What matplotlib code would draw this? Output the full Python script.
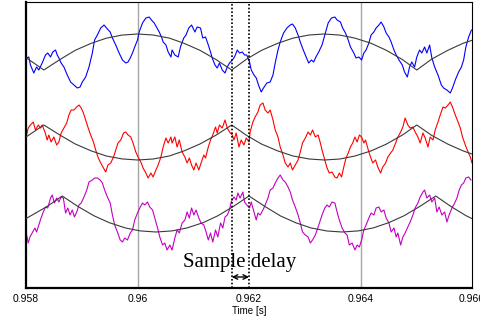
import matplotlib
matplotlib.use("Agg")
import matplotlib.pyplot as plt

# values (time in s, amplitude in arbitrary units)
blue_t = [0.95800, 0.95805, 0.95808, 0.95814, 0.95819, 0.95823, 0.95829, 0.95835, 0.95839, 0.95844,
          0.95848, 0.95853, 0.95856, 0.95859, 0.95863, 0.95868, 0.95874, 0.95880, 0.95886, 0.95892,
          0.95897, 0.95901, 0.95907, 0.95913, 0.95919, 0.95923, 0.95928, 0.95934, 0.95940, 0.95946,
          0.95951, 0.95955, 0.95961, 0.95967, 0.95973, 0.95979, 0.95983, 0.95987, 0.95991, 0.95995,
          0.96000, 0.96003, 0.96009, 0.96015, 0.96021, 0.96025, 0.96030, 0.96034, 0.96039, 0.96043,
          0.96046, 0.96051, 0.96055, 0.96060, 0.96062, 0.96067, 0.96073, 0.96077, 0.96083, 0.96087,
          0.96092, 0.96097, 0.96103, 0.96107, 0.96113, 0.96117, 0.96122, 0.96127, 0.96131, 0.96134,
          0.96139, 0.96143, 0.96147, 0.96152, 0.96157, 0.96161, 0.96165, 0.96170, 0.96174, 0.96179,
          0.96183, 0.96188, 0.96192, 0.96196, 0.96201, 0.96204, 0.96209, 0.96213, 0.96217, 0.96222,
          0.96226, 0.96232, 0.96238, 0.96243, 0.96247, 0.96252, 0.96256, 0.96262, 0.96268, 0.96274,
          0.96278, 0.96283, 0.96288, 0.96292, 0.96296, 0.96301, 0.96307, 0.96312, 0.96316, 0.96320,
          0.96325, 0.96331, 0.96337, 0.96342, 0.96348, 0.96354, 0.96358, 0.96364, 0.96368, 0.96373,
          0.96378, 0.96382, 0.96388, 0.96392, 0.96397, 0.96402, 0.96406, 0.96410, 0.96415, 0.96419,
          0.96424, 0.96428, 0.96433, 0.96437, 0.96442, 0.96446, 0.96451, 0.96455, 0.96460, 0.96464,
          0.96469, 0.96475, 0.96479, 0.96484, 0.96488, 0.96492, 0.96497, 0.96501, 0.96506, 0.96510,
          0.96515, 0.96519, 0.96524, 0.96528, 0.96533, 0.96539, 0.96545, 0.96549, 0.96555, 0.96561,
          0.96565, 0.96570, 0.96576, 0.96581, 0.96585, 0.96589, 0.96594, 0.96599]
blue_v = [230, 231, 223, 215, 221, 218, 225, 233, 235, 231,
          236, 238, 233, 230, 225, 221, 213, 206, 203, 200,
          201, 206, 211, 221, 235, 248, 253, 260, 263, 259,
          256, 250, 243, 235, 228, 225, 226, 230, 235, 241,
          248, 256, 265, 270, 271, 268, 265, 261, 256, 251,
          246, 243, 236, 231, 238, 233, 231, 241, 250, 253,
          260, 263, 256, 261, 260, 250, 251, 243, 236, 230,
          223, 220, 225, 218, 215, 221, 225, 228, 231, 238,
          235, 236, 233, 233, 226, 218, 213, 210, 203, 196,
          200, 205, 206, 213, 225, 238, 246, 255, 260, 263,
          264, 260, 253, 246, 240, 233, 225, 228, 226, 231,
          236, 243, 255, 265, 270, 271, 268, 266, 260, 255,
          248, 241, 235, 230, 231, 228, 235, 238, 245, 253,
          256, 260, 263, 266, 261, 255, 251, 246, 238, 233,
          228, 223, 216, 211, 221, 226, 221, 231, 238, 235,
          241, 235, 243, 230, 221, 213, 203, 200, 198, 195,
          200, 208, 216, 221, 228, 241, 251, 258]

red_t = [0.95800, 0.95804, 0.95808, 0.95813, 0.95817, 0.95822, 0.95826, 0.95829, 0.95834, 0.95838,
         0.95841, 0.95845, 0.95850, 0.95855, 0.95859, 0.95863, 0.95868, 0.95873, 0.95877, 0.95881,
         0.95886, 0.95891, 0.95895, 0.95899, 0.95903, 0.95907, 0.95911, 0.95916, 0.95921, 0.95925,
         0.95929, 0.95934, 0.95939, 0.95943, 0.95947, 0.95952, 0.95957, 0.95961, 0.95965, 0.95970,
         0.95975, 0.95979, 0.95983, 0.95988, 0.95992, 0.95997, 0.96001, 0.96006, 0.96010, 0.96015,
         0.96019, 0.96024, 0.96028, 0.96033, 0.96037, 0.96042, 0.96046, 0.96051, 0.96055, 0.96060,
         0.96062, 0.96067, 0.96071, 0.96075, 0.96080, 0.96085, 0.96089, 0.96093, 0.96097, 0.96101,
         0.96105, 0.96110, 0.96114, 0.96119, 0.96122, 0.96127, 0.96131, 0.96135, 0.96140, 0.96143,
         0.96147, 0.96152, 0.96157, 0.96161, 0.96165, 0.96170, 0.96173, 0.96177, 0.96182, 0.96186,
         0.96191, 0.96195, 0.96200, 0.96202, 0.96207, 0.96211, 0.96216, 0.96220, 0.96225, 0.96229,
         0.96234, 0.96238, 0.96243, 0.96247, 0.96252, 0.96256, 0.96261, 0.96265, 0.96270, 0.96274,
         0.96278, 0.96283, 0.96288, 0.96292, 0.96296, 0.96301, 0.96306, 0.96310, 0.96314, 0.96319,
         0.96324, 0.96328, 0.96331, 0.96336, 0.96340, 0.96344, 0.96349, 0.96354, 0.96358, 0.96362,
         0.96366, 0.96370, 0.96374, 0.96378, 0.96382, 0.96386, 0.96390, 0.96394, 0.96398, 0.96402,
         0.96406, 0.96409, 0.96414, 0.96418, 0.96422, 0.96427, 0.96431, 0.96436, 0.96440, 0.96445,
         0.96449, 0.96454, 0.96458, 0.96463, 0.96467, 0.96472, 0.96476, 0.96480, 0.96485, 0.96489,
         0.96494, 0.96498, 0.96503, 0.96507, 0.96512, 0.96516, 0.96521, 0.96525, 0.96530, 0.96534,
         0.96539, 0.96543, 0.96548, 0.96552, 0.96557, 0.96561, 0.96565, 0.96570, 0.96575, 0.96579,
         0.96583, 0.96588, 0.96593, 0.96597, 0.96600]
red_v = [151, 160, 163, 166, 158, 163, 160, 163, 156, 148,
         153, 146, 151, 143, 146, 155, 160, 165, 173, 178,
         178, 181, 183, 180, 175, 168, 161, 153, 146, 138,
         131, 125, 120, 116, 123, 125, 131, 138, 145, 148,
         155, 156, 153, 151, 145, 136, 131, 126, 120, 115,
         110, 115, 111, 118, 123, 131, 141, 150, 145, 151,
         145, 151, 141, 148, 136, 131, 125, 130, 123, 118,
         125, 118, 125, 133, 130, 141, 148, 153, 161, 155,
         163, 160, 168, 160, 156, 153, 148, 155, 141, 148,
         143, 150, 146, 156, 166, 171, 176, 183, 185, 178,
         175, 178, 168, 158, 151, 141, 133, 125, 121, 125,
         118, 123, 128, 136, 145, 150, 156, 153, 158, 151,
         153, 145, 138, 128, 120, 115, 116, 111, 110, 115,
         111, 121, 130, 135, 141, 145, 151, 146, 153, 151,
         145, 148, 138, 131, 125, 128, 121, 115, 121, 125,
         131, 135, 138, 145, 151, 156, 161, 170, 163, 160,
         161, 156, 151, 145, 155, 150, 141, 151, 148, 158,
         166, 173, 181, 180, 183, 186, 181, 173, 166, 160,
         151, 143, 136, 131, 125]

mag_t = [0.95800, 0.95804, 0.95807, 0.95811, 0.95816, 0.95819, 0.95823, 0.95827, 0.95831, 0.95835,
         0.95839, 0.95844, 0.95847, 0.95851, 0.95855, 0.95859, 0.95863, 0.95867, 0.95871, 0.95875,
         0.95879, 0.95883, 0.95887, 0.95891, 0.95895, 0.95899, 0.95904, 0.95909, 0.95913, 0.95919,
         0.95923, 0.95928, 0.95933, 0.95937, 0.95941, 0.95946, 0.95951, 0.95955, 0.95959, 0.95964,
         0.95969, 0.95973, 0.95977, 0.95982, 0.95987, 0.95991, 0.95995, 0.96000, 0.96005, 0.96009,
         0.96013, 0.96018, 0.96022, 0.96027, 0.96031, 0.96036, 0.96040, 0.96045, 0.96049, 0.96053,
         0.96058, 0.96062, 0.96067, 0.96071, 0.96075, 0.96080, 0.96085, 0.96089, 0.96093, 0.96097,
         0.96101, 0.96105, 0.96110, 0.96114, 0.96119, 0.96123, 0.96127, 0.96131, 0.96135, 0.96140,
         0.96144, 0.96149, 0.96153, 0.96157, 0.96161, 0.96165, 0.96168, 0.96173, 0.96177, 0.96180,
         0.96184, 0.96189, 0.96192, 0.96196, 0.96201, 0.96204, 0.96209, 0.96213, 0.96216, 0.96220,
         0.96225, 0.96229, 0.96234, 0.96238, 0.96243, 0.96247, 0.96252, 0.96256, 0.96261, 0.96265,
         0.96270, 0.96274, 0.96278, 0.96283, 0.96288, 0.96292, 0.96296, 0.96301, 0.96306, 0.96310,
         0.96314, 0.96319, 0.96324, 0.96328, 0.96331, 0.96336, 0.96340, 0.96344, 0.96349, 0.96354,
         0.96358, 0.96362, 0.96367, 0.96372, 0.96376, 0.96380, 0.96385, 0.96390, 0.96394, 0.96398,
         0.96402, 0.96406, 0.96410, 0.96415, 0.96419, 0.96424, 0.96428, 0.96433, 0.96437, 0.96442,
         0.96446, 0.96451, 0.96455, 0.96460, 0.96464, 0.96467, 0.96472, 0.96476, 0.96480, 0.96485,
         0.96489, 0.96494, 0.96498, 0.96503, 0.96507, 0.96512, 0.96515, 0.96519, 0.96524, 0.96528,
         0.96533, 0.96537, 0.96541, 0.96546, 0.96551, 0.96555, 0.96559, 0.96564, 0.96569, 0.96573,
         0.96577, 0.96581, 0.96585, 0.96589, 0.96594, 0.96598]
mag_v = [56, 45, 51, 55, 60, 56, 63, 70, 76, 81,
         80, 90, 93, 85, 90, 86, 91, 90, 75, 80,
         73, 78, 71, 76, 83, 85, 91, 98, 106, 108,
         110, 110, 108, 105, 98, 91, 85, 73, 63, 56,
         48, 46, 50, 48, 55, 58, 68, 75, 81, 85,
         83, 86, 81, 78, 70, 60, 51, 43, 45, 38,
         43, 38, 50, 58, 55, 65, 68, 76, 70, 80,
         73, 78, 70, 65, 63, 56, 48, 55, 46, 58,
         51, 65, 60, 71, 73, 78, 86, 91, 88, 95,
         90, 96, 86, 83, 80, 86, 76, 68, 75, 73,
         78, 83, 90, 98, 100, 105, 110, 113, 108, 106,
         101, 96, 88, 81, 73, 65, 56, 53, 51, 45,
         48, 53, 61, 68, 73, 80, 83, 81, 86, 85,
         76, 68, 60, 55, 53, 43, 45, 38, 43, 41,
         48, 58, 63, 70, 75, 73, 80, 81, 76, 78,
         70, 65, 56, 60, 51, 55, 43, 51, 55, 61,
         66, 73, 80, 85, 91, 96, 98, 90, 93, 86,
         90, 76, 81, 73, 76, 66, 73, 80, 85, 90,
         98, 103, 105, 110, 111, 108]

# smooth (black) curves
env_blue_t = [0.95800, 0.95832, 0.95861, 0.95888, 0.95917, 0.95944, 0.95972, 0.96000, 0.96028, 0.96057,
              0.96083, 0.96112, 0.96141, 0.96169, 0.96196, 0.96223, 0.96252, 0.96279, 0.96308, 0.96335,
              0.96363, 0.96390, 0.96419, 0.96446, 0.96475, 0.96501, 0.96528, 0.96557, 0.96584, 0.96600]
env_blue_v = [230.4, 218, 228.5, 237.6, 244.7, 249.8, 252.9, 254, 253, 249.9,
              244.8, 237.7, 228.4, 218, 229, 237.8, 244.8, 249.9, 253, 254,
              252.9, 249.9, 244.7, 237.8, 228.5, 218, 229, 237.8, 244.7, 247.7]
env_red_v = [151, 163, 152.9, 144.1, 137.1, 132, 129.1, 128, 129, 132,
             137, 144, 152.9, 163, 152.5, 143.8, 137, 132, 129, 128,
             129, 132, 137.1, 143.8, 152.9, 163, 152.5, 143.8, 137.1, 134]
env_mag_t = [0.95800, 0.95838, 0.95865, 0.95893, 0.95922, 0.95949, 0.95978, 0.96005, 0.96033, 0.96062,
             0.96089, 0.96118, 0.96144, 0.96172, 0.96200, 0.96229, 0.96256, 0.96284, 0.96311, 0.96340,
             0.96367, 0.96396, 0.96423, 0.96451, 0.96478, 0.96507, 0.96535, 0.96562, 0.96589, 0.96600]
env_mag_v = [69.4, 81.6, 92, 81.6, 72.2, 65.4, 60.1, 57.1, 56, 57.1,
             60.1, 65.4, 72.2, 81.6, 92, 81.4, 72.2, 65.2, 60.1, 57,
             56, 57.1, 60.1, 65.4, 72.2, 81.8, 92, 81.6, 72.4, 69.4]

sample_times = [0.96169, 0.96200]
grid_times = [0.960, 0.964]
xticks = [0.958, 0.960, 0.962, 0.964, 0.966]
xtick_labels = ["0.958", "0.96", "0.962", "0.964", "0.966"]

fig = plt.figure(figsize=(4.8, 3.22), dpi=100, facecolor="white")
ax = fig.add_axes([26 / 480, 34 / 322, 446 / 480, 286 / 322])

for g in grid_times:
    ax.axvline(g, color="#a6a6a6", lw=1.0, zorder=1)

ax.plot(blue_t, blue_v, color="#0000ff", lw=0.8, zorder=2)
ax.plot(red_t, red_v, color="#ff0000", lw=0.8, zorder=2)
ax.plot(mag_t, mag_v, color="#c400c4", lw=0.8, zorder=2)

ax.plot(env_blue_t, env_blue_v, color="#3a3a3a", lw=0.8, zorder=3)
ax.plot(env_blue_t, env_red_v, color="#3a3a3a", lw=0.8, zorder=3)
ax.plot(env_mag_t, env_mag_v, color="#3a3a3a", lw=0.8, zorder=3)

for s in sample_times:
    ax.axvline(s, color="black", lw=1.2, linestyle=(0, (1, 1.2)), zorder=4)

ax.text(0.96081, 21, "Sample delay", family="Liberation Serif", fontsize=15,
        ha="left", va="baseline", zorder=5)
ax.annotate("", xy=(sample_times[0], 11), xytext=(sample_times[1], 11),
            arrowprops=dict(arrowstyle="<->", color="black", lw=1.0,
                            shrinkA=0, shrinkB=0, mutation_scale=8), zorder=5)

ax.set_xlim(0.958, 0.966)
ax.set_ylim(0, 286)
ax.set_xticks(xticks)
ax.set_xticklabels(xtick_labels, family="Liberation Sans", fontsize=7.5)
ax.set_yticks([])
ax.tick_params(axis="x", length=0, pad=4)
ax.set_xlabel("Time [s]", family="Liberation Sans", fontsize=7, labelpad=2)

ax.spines["left"].set_linewidth(1.6)
ax.spines["bottom"].set_linewidth(1.6)
ax.spines["top"].set_linewidth(0.8)
ax.spines["right"].set_linewidth(0.8)

fig.savefig("out.png", dpi=100, facecolor="white")
